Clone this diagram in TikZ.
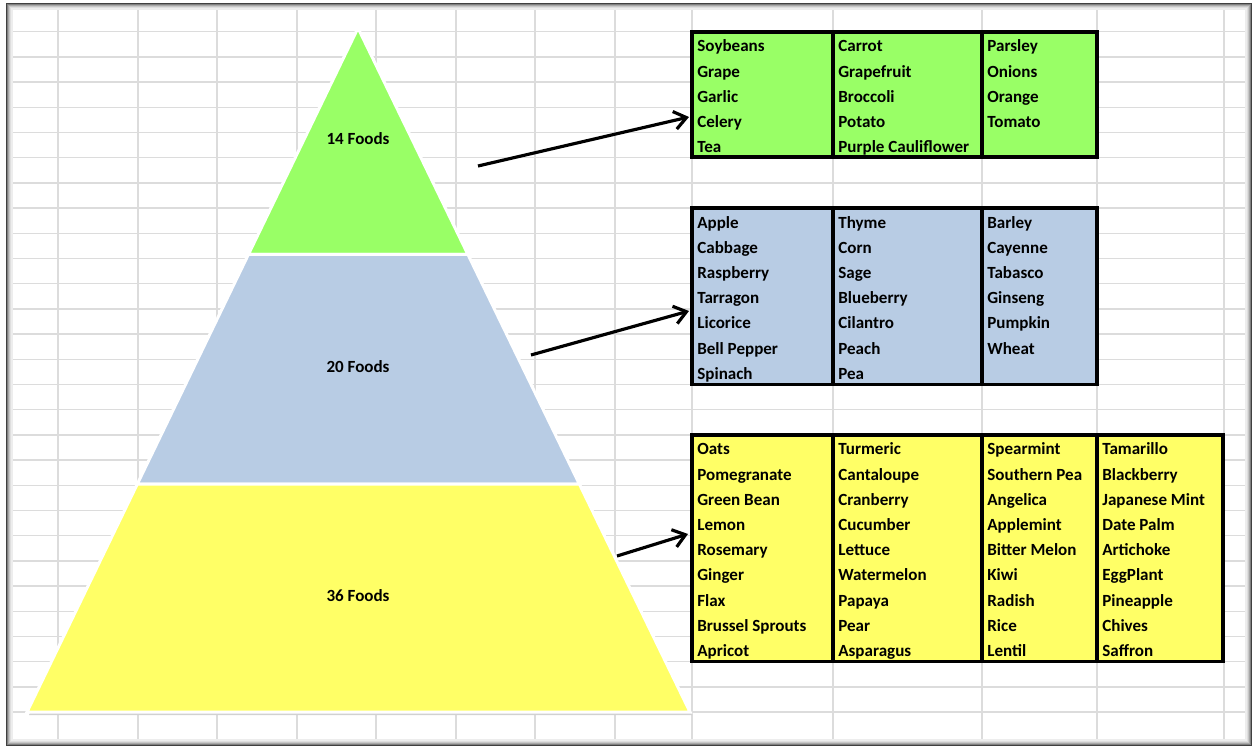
\documentclass[tikz,border=0pt]{standalone}
\usepackage{fontspec}
\setmainfont{Carlito}
\usetikzlibrary{arrows.meta,calc,positioning}
\tikzset{>={Straight Barb[length=2.4mm,width=3.6mm]}}
\definecolor{foodgreen}{RGB}{153,255,102}
\definecolor{foodblue}{RGB}{184,204,228}
\definecolor{foodyellow}{RGB}{255,255,102}
\definecolor{gridgray}{RGB}{220,220,220}
\tikzstyle{tier}=[draw=white,line width=1.7pt,line join=miter]
\tikzstyle{tierg}=[tier,fill=foodgreen]
\tikzstyle{tierb}=[tier,fill=foodblue]
\tikzstyle{tiery}=[tier,fill=foodyellow]
\tikzstyle{column}=[rectangle,draw=black,line width=2pt,inner sep=0pt,outer sep=0pt,anchor=north west]
\tikzstyle{food}=[anchor=base west,inner sep=0pt,font=\bfseries\fontsize{9.7}{11}\selectfont]
\tikzstyle{count}=[inner sep=0pt,font=\bfseries\fontsize{9.7}{11}\selectfont]
\tikzstyle{pointer}=[->,line width=1.8pt,black]

\begin{document}
\begin{tikzpicture}[x=0.02cm,y=-0.02cm]
\def \px {0.02};
\def \rowh {25.2};
\def \gap {5};

\useasboundingbox (0,0) rectangle (1253,746);
\fill[white] (0,0) rectangle (1253,746);

% spreadsheet grid
\foreach \gx in {58,138,217,297,376,456,535,615,692,833,982,1097,1224} {
	\draw[gridgray,line width=0.03cm] (\gx,4) -- (\gx,745);
};
\foreach \k in {1,...,28} {
	\draw[gridgray,line width=0.03cm] (7,6.5+\rowh*\k) -- (1251,6.5+\rowh*\k);
};

% frame with inner shadow
\foreach \i/\shade in {0/75,1/50,2/34,3/22,4/13,5/7} {
	\draw[black!\shade,line width=0.022cm] (7+\i,4+\i) rectangle (1251-\i,745-\i);
};

% pyramid
\coordinate (apex) at (358,28);
\coordinate (bl) at (27,712);
\coordinate (br) at (690,712);
\fill[black!18] ($(apex)+(2,3)$) -- ($(bl)+(2,3)$) -- ($(br)+(2,3)$) -- cycle;
\draw[tierg] (apex) -- ($(apex)!0.331!(bl)$) -- ($(apex)!0.331!(br)$) -- cycle;
\draw[tierb] ($(apex)!0.331!(bl)$) -- ($(apex)!0.667!(bl)$) -- ($(apex)!0.667!(br)$) -- ($(apex)!0.331!(br)$) -- cycle;
\draw[tiery] ($(apex)!0.667!(bl)$) -- (bl) -- (br) -- ($(apex)!0.667!(br)$) -- cycle;

\node[count] (top) at (358,139) {14 Foods};
\node[count] (mid) at (358,367) {20 Foods};
\node[count] (low) at (358,596) {36 Foods};

% food tables
\node[column,fill=foodgreen,minimum width=141*\px cm,minimum height=125*\px cm] (G1) at (692,32) {};
\node[column,fill=foodgreen,minimum width=149*\px cm,minimum height=125*\px cm,right=0pt of G1] (G2) {};
\node[column,fill=foodgreen,minimum width=115*\px cm,minimum height=125*\px cm,right=0pt of G2] (G3) {};

\node[column,fill=foodblue,minimum width=141*\px cm,minimum height=176.4*\px cm] (B1) at (692,208.1) {};
\node[column,fill=foodblue,minimum width=149*\px cm,minimum height=176.4*\px cm,right=0pt of B1] (B2) {};
\node[column,fill=foodblue,minimum width=115*\px cm,minimum height=176.4*\px cm,right=0pt of B2] (B3) {};

\node[column,fill=foodyellow,minimum width=141*\px cm,minimum height=226.8*\px cm] (Y1) at (692,434.9) {};
\node[column,fill=foodyellow,minimum width=149*\px cm,minimum height=226.8*\px cm,right=0pt of Y1] (Y2) {};
\node[column,fill=foodyellow,minimum width=115*\px cm,minimum height=226.8*\px cm,right=0pt of Y2] (Y3) {};
\node[column,fill=foodyellow,minimum width=126*\px cm,minimum height=226.8*\px cm,right=0pt of Y3] (Y4) {};

\foreach \col/\list in {
	G1/{Soybeans,Grape,Garlic,Celery,Tea},
	G2/{Carrot,Grapefruit,Broccoli,Potato,Purple Cauliflower},
	G3/{Parsley,Onions,Orange,Tomato},
	B1/{Apple,Cabbage,Raspberry,Tarragon,Licorice,Bell Pepper,Spinach},
	B2/{Thyme,Corn,Sage,Blueberry,Cilantro,Peach,Pea},
	B3/{Barley,Cayenne,Tabasco,Ginseng,Pumpkin,Wheat},
	Y1/{Oats,Pomegranate,Green Bean,Lemon,Rosemary,Ginger,Flax,Brussel Sprouts,Apricot},
	Y2/{Turmeric,Cantaloupe,Cranberry,Cucumber,Lettuce,Watermelon,Papaya,Pear,Asparagus},
	Y3/{Spearmint,Southern Pea,Angelica,Applemint,Bitter Melon,Kiwi,Radish,Rice,Lentil},
	Y4/{Tamarillo,Blackberry,Japanese Mint,Date Palm,Artichoke,EggPlant,Pineapple,Chives,Saffron}} {
	\foreach \food [count=\r] in \list {
		\node[food] (\col-\r) at ($(\col.north west)+(\gap,\rowh*\r-5.2)$) {\food};
	};
};

% arrows
\coordinate (t1) at (478,166);
\coordinate (h1) at (689,117);
\coordinate (t2) at (531,355);
\coordinate (h2) at (689,311);
\coordinate (t3) at (617,556);
\coordinate (h3) at (688,534);
\draw[pointer] (t1) -- (h1);
\draw[pointer] (t2) -- (h2);
\draw[pointer] (t3) -- (h3);

\end{tikzpicture}
\end{document}
